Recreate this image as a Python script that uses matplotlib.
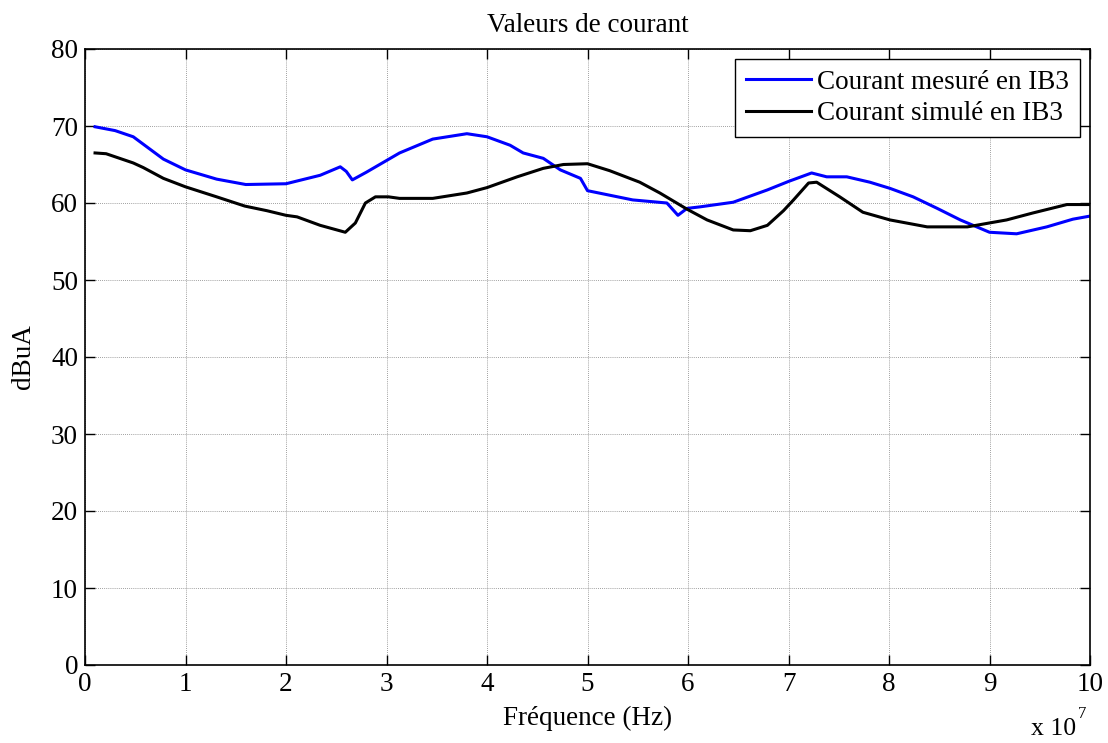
import matplotlib
matplotlib.use("Agg")
import matplotlib.pyplot as plt

plt.rcParams['font.family'] = ['Liberation Serif', 'DejaVu Serif']

# Frequencies in units of 1e7 Hz
freq_mes = [0.10, 0.30, 0.48, 0.78, 1.00, 1.31, 1.60, 2.00, 2.34, 2.54, 2.60, 2.66,
            2.80, 3.13, 3.46, 3.80, 4.00, 4.23, 4.36, 4.56, 4.73, 4.93, 5.00, 5.45,
            5.79, 5.90, 5.99, 6.12, 6.45, 6.79, 7.00, 7.23, 7.38, 7.58, 7.81, 8.01,
            8.24, 8.48, 8.71, 9.00, 9.27, 9.57, 9.83, 10.0]
val_mes = [69.9, 69.4, 68.6, 65.7, 64.3, 63.1, 62.4, 62.5, 63.6, 64.7, 64.1, 63.0,
           64.0, 66.5, 68.3, 69.0, 68.6, 67.5, 66.5, 65.8, 64.3, 63.2, 61.6, 60.4,
           60.0, 58.4, 59.3, 59.5, 60.1, 61.7, 62.8, 63.9, 63.4, 63.4, 62.7, 61.9,
           60.8, 59.3, 57.8, 56.2, 56.0, 56.9, 57.9, 58.3]

freq_sim = [0.10, 0.21, 0.48, 0.58, 0.78, 1.00, 1.31, 1.59, 1.81, 2.00, 2.11, 2.34,
            2.59, 2.69, 2.79, 2.89, 3.02, 3.13, 3.46, 3.80, 4.00, 4.30, 4.56, 4.76,
            5.00, 5.22, 5.52, 5.72, 5.99, 6.19, 6.45, 6.62, 6.79, 6.95, 7.05, 7.20,
            7.28, 7.51, 7.74, 8.01, 8.38, 8.78, 9.17, 9.43, 9.77, 10.0]
val_sim = [66.5, 66.4, 65.2, 64.6, 63.2, 62.1, 60.8, 59.6, 59.0, 58.4, 58.2, 57.1,
           56.2, 57.4, 60.0, 60.8, 60.8, 60.6, 60.6, 61.3, 62.0, 63.4, 64.5, 65.0,
           65.1, 64.2, 62.7, 61.3, 59.2, 57.8, 56.5, 56.4, 57.1, 59.0, 60.4, 62.6,
           62.7, 60.8, 58.8, 57.8, 56.9, 56.9, 57.8, 58.7, 59.8, 59.8]

xticks = list(range(0, 11))
yticks = list(range(0, 81, 10))

FS = 19.5

fig = plt.figure(figsize=(11.08, 7.43), dpi=100)
ax = fig.add_axes([85/1108, 78/743, 1005/1108, 616/743])

ax.plot(freq_mes, val_mes, color='#0000FF', lw=2.2, label='Courant mesuré en IB3')
ax.plot(freq_sim, val_sim, color='black', lw=2.2, label='Courant simulé en IB3')

ax.set_xlim(0, 10)
ax.set_ylim(0, 80)
ax.set_xticks(xticks)
ax.set_xticklabels([str(t) for t in xticks])
ax.set_yticks(yticks)
ax.set_yticklabels([str(t) for t in yticks])
ax.tick_params(direction='in', length=7, width=1, top=True, right=True,
               labelsize=FS)
ax.tick_params(axis='x', pad=5)
ax.tick_params(axis='y', pad=5)
ax.grid(True, color='#808080', linestyle=(0, (1, 1.5)), linewidth=0.6)
for s in ax.spines.values():
    s.set_linewidth(1.2)

ax.set_title('Valeurs de courant', fontsize=FS, pad=12)
ax.set_xlabel('Fréquence (Hz)', fontsize=FS, labelpad=6.5)
ax.set_ylabel('dBuA', fontsize=FS, labelpad=11)

leg = ax.legend(loc='upper right', fontsize=FS, frameon=True, fancybox=False,
                edgecolor='black', framealpha=1, borderpad=0.4, labelspacing=0.24,
                handlelength=2.4, handletextpad=0.22, borderaxespad=0.37)
leg.get_frame().set_linewidth(1.0)

fig.text(1031/1108, 1 - 729/743, 'x 10', fontsize=18.5, va='center', ha='left')
fig.text(1078/1108, 1 - 714/743, '7', fontsize=12, va='center', ha='left')

fig.savefig('out.png', dpi=100)
